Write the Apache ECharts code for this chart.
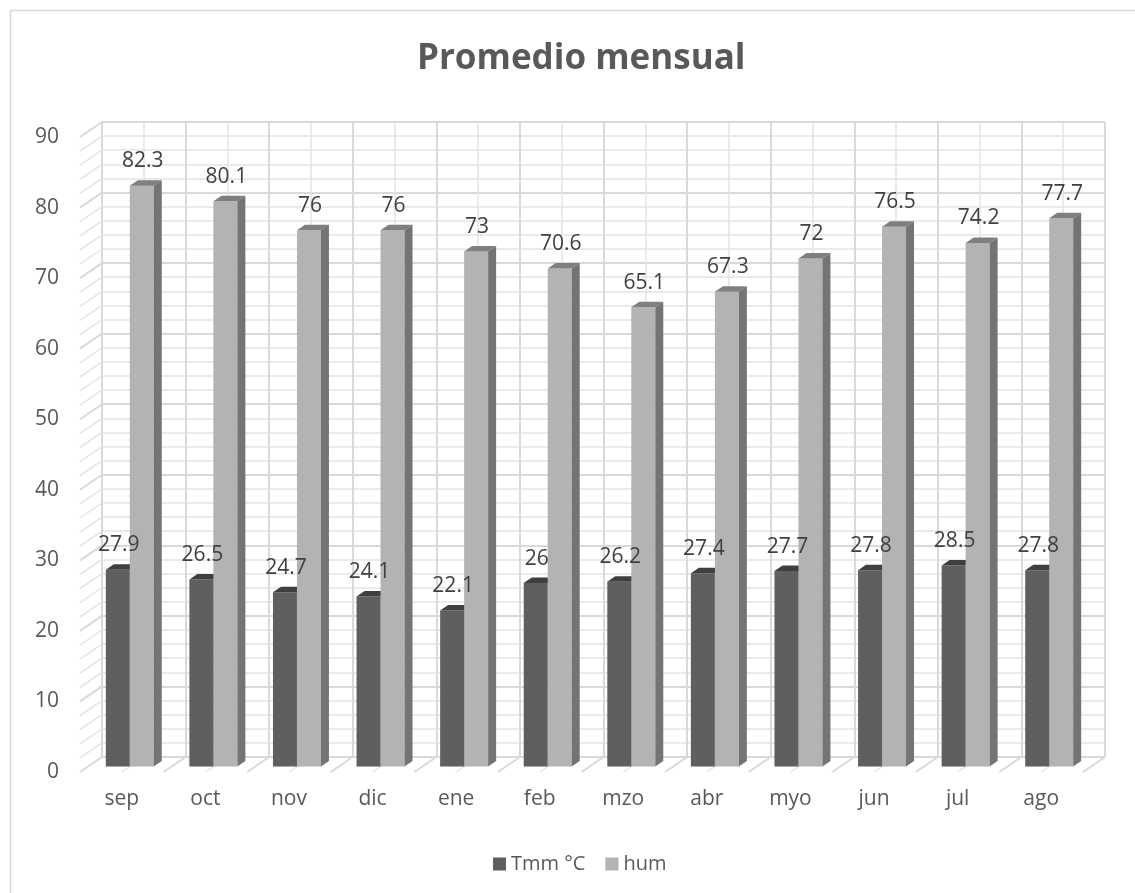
<!DOCTYPE html>
<html>
<head>
<meta charset="utf-8">
<script src="https://cdn.jsdelivr.net/npm/echarts@6/dist/echarts.min.js"></script>
<style>
  html, body { margin: 0; padding: 0; background: #ffffff; }
  #chart { width: 1135px; height: 893px; }
</style>
</head>
<body>
<div id="chart"></div>
<script>
// Monthly averages: temperature (Tmm °C) and relative humidity (hum)
const months = ['sep', 'oct', 'nov', 'dic', 'ene', 'feb', 'mzo', 'abr', 'myo', 'jun', 'jul', 'ago'];
const tmm = [27.9, 26.5, 24.7, 24.1, 22.1, 26, 26.2, 27.4, 27.7, 27.8, 28.5, 27.8];
const hum = [82.3, 80.1, 76, 76, 73, 70.6, 65.1, 67.3, 72, 76.5, 74.2, 77.7];
const seriesNames = ['Tmm °C', 'hum'];

const FONT = 'Open Sans';
const TEXT = '#595959';
const GRID_MAJOR = '#d9d9d9';
const GRID_MINOR = '#e4e4e4';

// Perspective: shift from the front plane to the back wall
const DEPTH_DX = 22, DEPTH_DY = -15;
// Extrusion of each column (top and side faces)
const BAR_DX = 8, BAR_DY = -5.5;
const BAR_FRAC = 0.287;

// face colours per series: front, top, side
const faces = [
  { front: '#5f5f5f', top: '#3f3f3f', side: '#474747' },
  { front: '#b3b3b3', top: '#7f7f7f', side: '#747474' }
];

function columnBox(seriesIdx, api) {
  const idx = api.value(0);
  const val = api.value(1);
  const base = api.coord([idx, 0]);
  const top = api.coord([idx, val]);
  const band = api.size([1, 0])[0];
  const w = band * BAR_FRAC;
  const x0 = seriesIdx === 0 ? base[0] - w : base[0];
  return { val: val, x0: x0, x1: x0 + w, yTop: top[1], yBase: base[1] };
}

function columnRenderer(seriesIdx) {
  return function (params, api) {
    const b = columnBox(seriesIdx, api);
    const f = faces[seriesIdx];
    return {
      type: 'group',
      children: [
        { type: 'rect', shape: { x: b.x0, y: b.yTop, width: b.x1 - b.x0, height: b.yBase - b.yTop },
          style: { fill: f.front } },
        { type: 'polygon', shape: { points: [[b.x0, b.yTop], [b.x1, b.yTop], [b.x1 + BAR_DX, b.yTop + BAR_DY], [b.x0 + BAR_DX, b.yTop + BAR_DY]] },
          style: { fill: f.top } },
        { type: 'polygon', shape: { points: [[b.x1, b.yTop], [b.x1 + BAR_DX, b.yTop + BAR_DY], [b.x1 + BAR_DX, b.yBase + BAR_DY], [b.x1, b.yBase]] },
          style: { fill: f.side } }
      ]
    };
  };
}

// Value labels sit in their own layer so they stay above every column
function labelRenderer(seriesIdx) {
  return function (params, api) {
    const b = columnBox(seriesIdx, api);
    return { type: 'text', x: (b.x0 + b.x1) / 2 + 1, y: b.yTop - 24.5,
      style: { text: String(b.val), align: 'center', verticalAlign: 'middle',
               fontFamily: FONT, fontSize: 21, fill: '#404040' } };
  };
}

// Left side wall and floor: lines running from the front plane back to the wall
function wallRenderer(params, api) {
  const children = [];
  const band = api.size([1, 0])[0];
  const left = api.coord([0, 0])[0] - band / 2;
  for (let v = 0; v <= 90; v += 2) {
    const p = api.coord([0, v]);
    children.push({ type: 'line',
      shape: { x1: left, y1: p[1], x2: left + DEPTH_DX, y2: p[1] + DEPTH_DY },
      style: { stroke: v % 10 === 0 ? GRID_MAJOR : GRID_MINOR, lineWidth: v % 10 === 0 ? 2 : 1.5 } });
  }
  const y0 = api.coord([0, 0])[1];
  for (let k = 1; k <= months.length * 2; k++) {
    const x = left + k * band / 2;
    children.push({ type: 'line',
      shape: { x1: x, y1: y0, x2: x + DEPTH_DX, y2: y0 + DEPTH_DY },
      style: { stroke: k % 2 === 0 ? GRID_MAJOR : GRID_MINOR, lineWidth: k % 2 === 0 ? 2 : 1.5 } });
  }
  return { type: 'group', children: children };
}

const chart = echarts.init(document.getElementById('chart'), null, { renderer: 'canvas' });

const tmmData = tmm.map((v, i) => [i, v]);
const humData = hum.map((v, i) => [i, v]);

chart.setOption({
  animation: false,
  backgroundColor: '#ffffff',
  title: {
    text: 'Promedio mensual',
    left: 412,
    top: 37,
    textStyle: { fontFamily: FONT, fontSize: 35, fontWeight: 'bold', color: TEXT }
  },
  legend: {
    data: seriesNames,
    top: 849,
    left: 488,
    icon: 'rect',
    itemWidth: 13,
    itemHeight: 13,
    itemGap: 20,
    textStyle: { fontFamily: FONT, fontSize: 20, color: TEXT }
  },
  graphic: [
    { type: 'rect', left: 8, top: 8, shape: { width: 1140, height: 900 },
      style: { fill: 'none', stroke: '#d9d9d9', lineWidth: 1.5 }, silent: true, z: -10 }
  ],
  grid: [
    { left: 80, right: 52, top: 137, bottom: 121 },     // front plane: axis labels
    { left: 102, right: 30, top: 122, bottom: 136 },    // back wall
    { left: 88, right: 44, top: 131.5, bottom: 126.5 }  // column plane
  ],
  xAxis: [
    { type: 'category', gridIndex: 0, data: months,
      axisLine: { show: false }, axisTick: { show: false }, splitLine: { show: false },
      axisLabel: { margin: 17, fontFamily: FONT, fontSize: 21, color: TEXT } },
    { type: 'value', gridIndex: 1, min: 0, max: months.length, interval: 1,
      axisLine: { show: false }, axisTick: { show: false }, axisLabel: { show: false },
      splitLine: { show: true, lineStyle: { color: GRID_MAJOR, width: 2 } },
      minorTick: { show: false, splitNumber: 2 },
      minorSplitLine: { show: true, lineStyle: { color: GRID_MINOR, width: 1.5 } } },
    { type: 'category', gridIndex: 2, data: months, show: false }
  ],
  yAxis: [
    { type: 'value', gridIndex: 0, min: 0, max: 90, interval: 10,
      axisLine: { show: false }, axisTick: { show: false }, splitLine: { show: false },
      axisLabel: { margin: 21, fontFamily: FONT, fontSize: 21, color: TEXT } },
    { type: 'value', gridIndex: 1, min: 0, max: 90, interval: 10,
      axisLine: { show: false }, axisTick: { show: false }, axisLabel: { show: false },
      splitLine: { show: true, lineStyle: { color: GRID_MAJOR, width: 2 } },
      minorTick: { show: false, splitNumber: 5 },
      minorSplitLine: { show: true, lineStyle: { color: GRID_MINOR, width: 1.5 } } },
    { type: 'value', gridIndex: 2, min: 0, max: 90, show: false }
  ],
  series: [
    { type: 'custom', name: 'walls', xAxisIndex: 0, yAxisIndex: 0, silent: true, z: 1,
      data: [[0, 0]], renderItem: wallRenderer },
    { type: 'custom', name: seriesNames[0], xAxisIndex: 2, yAxisIndex: 2, z: 3,
      itemStyle: { color: faces[0].front },
      data: tmmData, renderItem: columnRenderer(0) },
    { type: 'custom', name: seriesNames[1], xAxisIndex: 2, yAxisIndex: 2, z: 4,
      itemStyle: { color: faces[1].front },
      data: humData, renderItem: columnRenderer(1) },
    { type: 'custom', name: 'labels-tmm', xAxisIndex: 2, yAxisIndex: 2, z: 6, silent: true,
      data: tmmData, renderItem: labelRenderer(0) },
    { type: 'custom', name: 'labels-hum', xAxisIndex: 2, yAxisIndex: 2, z: 6, silent: true,
      data: humData, renderItem: labelRenderer(1) }
  ]
});
</script>
</body>
</html>
